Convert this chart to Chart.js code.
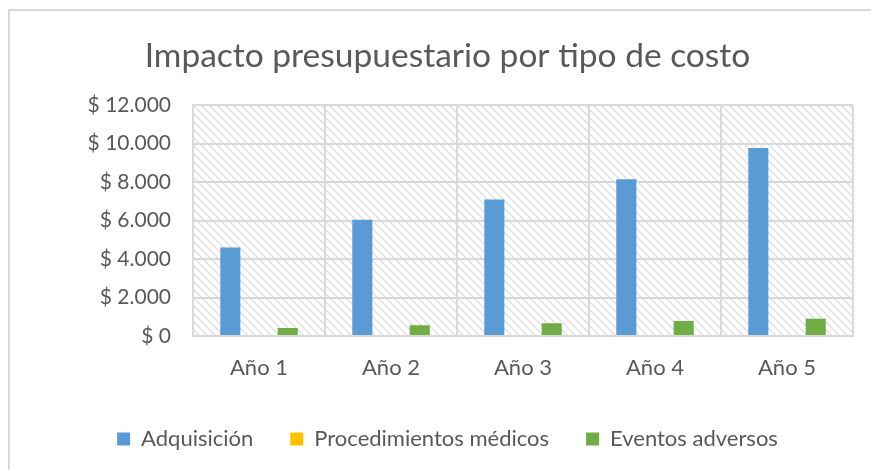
<!DOCTYPE html>
<html>
<head>
<meta charset="utf-8">
<script src="https://cdn.jsdelivr.net/npm/chart.js@4"></script>
<style>
    body { margin: 0; background: #fff; overflow: hidden; }
    .marco { position: absolute; left: 0; top: 0; width: 871px; height: 470px; }
    .borde { position: absolute; left: 8px; top: 9px; width: 900px; height: 500px;
             border-top: 2px solid #d9d9d9; border-left: 2px solid #d9d9d9; }
</style>
</head>
<body>
<div class="borde"></div>
<div class="marco"><canvas id="grafico"></canvas></div>
<script>
// Datos
const anios = ['Año 1', 'Año 2', 'Año 3', 'Año 4', 'Año 5'];
const adquisicion = [4600, 6050, 7100, 8150, 9780];
const procedimientos = [0, 0, 0, 0, 0];
const eventosAdversos = [420, 560, 660, 780, 900];
const ticksY = [0, 2000, 4000, 6000, 8000, 10000, 12000];

const gris = '#595959';
const fuente = "Lato, 'Open Sans', sans-serif";

// Patrón de rayas diagonales del fondo
function crearRayado() {
    const c = document.createElement('canvas');
    c.width = 8;
    c.height = 8;
    const g = c.getContext('2d');
    g.strokeStyle = '#e0e0e0';
    g.lineWidth = 1.5;
    g.beginPath();
    g.moveTo(-2, -2); g.lineTo(10, 10);
    g.moveTo(-10, -2); g.lineTo(2, 10);
    g.moveTo(6, -2); g.lineTo(18, 10);
    g.stroke();
    return c;
}

const fondoRayado = {
    id: 'fondoRayado',
    beforeDraw(chart) {
        const a = chart.chartArea;
        const ctx = chart.ctx;
        ctx.save();
        ctx.fillStyle = ctx.createPattern(crearRayado(), 'repeat');
        ctx.fillRect(a.left, a.top, a.right - a.left, a.bottom - a.top);
        ctx.restore();
    }
};

function formatoPesos(v) {
    return '$ ' + String(v).replace(/\B(?=(\d{3})+(?!\d))/g, '.');
}

new Chart(document.getElementById('grafico'), {
    type: 'bar',
    data: {
        labels: anios,
        datasets: [
            { label: 'Adquisición', data: adquisicion, backgroundColor: '#5b9bd5' },
            { label: 'Procedimientos médicos', data: procedimientos, backgroundColor: '#ffc000' },
            { label: 'Eventos adversos', data: eventosAdversos, backgroundColor: '#70ad47' }
        ]
    },
    options: {
        responsive: true,
        maintainAspectRatio: false,
        animation: false,
        categoryPercentage: 0.652,
        barPercentage: 0.7,
        layout: { padding: { left: 42, right: 18, top: 0, bottom: 10 } },
        plugins: {
            title: {
                display: true,
                text: 'Impacto presupuestario por tipo de costo',
                color: gris,
                font: { family: fuente, size: 33.5, weight: 'normal' },
                padding: { top: 36, bottom: 29 }
            },
            legend: {
                position: 'bottom',
                labels: {
                    color: gris,
                    font: { family: fuente, size: 22 },
                    boxWidth: 13,
                    boxHeight: 13,
                    padding: 37
                }
            },
            tooltip: { enabled: false }
        },
        scales: {
            x: {
                grid: { color: '#d9d9d9', lineWidth: 2, drawTicks: false },
                border: { color: '#d9d9d9', width: 2 },
                ticks: { color: gris, font: { family: fuente, size: 22 }, padding: 19 },
                afterFit(scale) { scale.height = 55; }
            },
            y: {
                min: 0,
                max: 12000,
                afterBuildTicks(scale) { scale.ticks = ticksY.map(v => ({ value: v })); },
                grid: { color: '#d9d9d9', lineWidth: 2, drawTicks: false },
                border: { color: '#d9d9d9', width: 2 },
                ticks: {
                    color: gris,
                    font: { family: fuente, size: 21 },
                    padding: 22,
                    callback: v => formatoPesos(v)
                },
                afterFit(scale) { scale.width = 151; }
            }
        }
    },
    plugins: [fondoRayado]
});
</script>
</body>
</html>
